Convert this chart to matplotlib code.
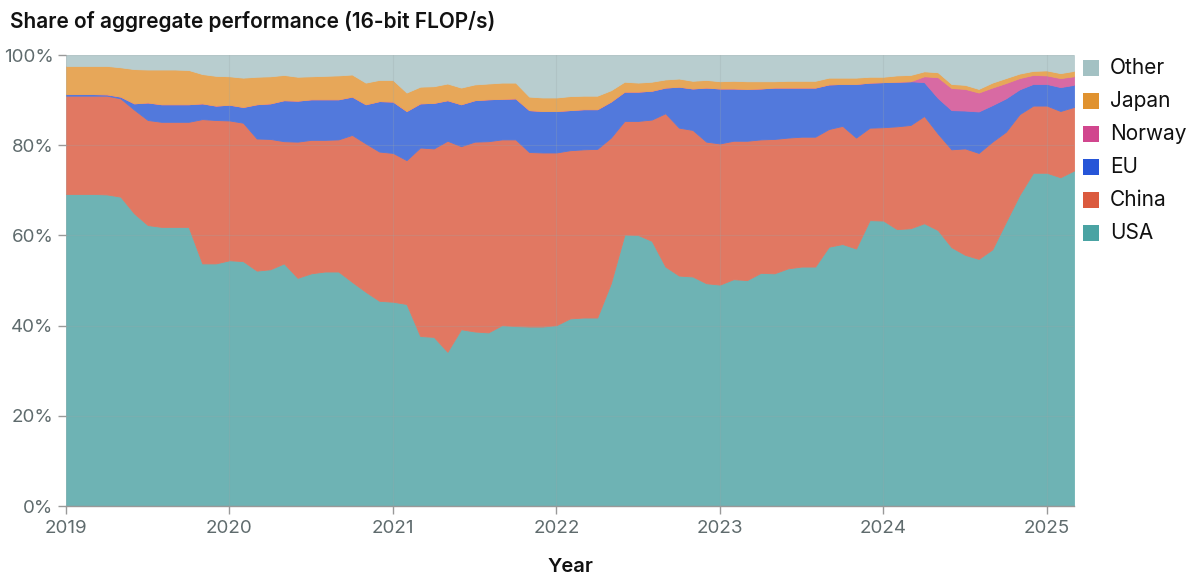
import matplotlib
matplotlib.use("Agg")
import matplotlib.pyplot as plt
from matplotlib.patches import Rectangle
import numpy as np

plt.rcParams['font.family'] = ['Inter', 'DejaVu Sans']

# Monthly data, Jan 2019 .. Mar 2025 (share of aggregate 16-bit FLOP/s, %)
start_year = 2019
n_months = 75

usa = [69.2, 69.2, 69.2, 69.1, 68.6, 64.9, 62.3, 61.9, 61.9, 61.9, 53.8, 53.8, 54.5,
       54.3, 52.2, 52.5, 53.8, 50.6, 51.6, 52.0, 52.0, 49.7, 47.5, 45.5, 45.3,
       44.8, 37.7, 37.5, 34.2, 39.2, 38.7, 38.5, 40.1, 39.9, 39.8, 39.8, 40.1,
       41.6, 41.8, 41.8, 49.4, 60.2, 60.1, 58.8, 53.1, 51.1, 50.9, 49.4, 49.1,
       50.3, 50.1, 51.7, 51.6, 52.7, 53.1, 53.1, 57.5, 58.1, 57.1, 63.4, 63.3,
       61.4, 61.6, 62.7, 61.2, 57.4, 55.7, 54.8, 56.9, 63.0, 69.0, 73.9, 73.9, 72.9, 74.4]

china = [21.8, 21.8, 21.8, 21.9, 21.8, 23.0, 23.3, 23.3, 23.3, 23.3, 32.0, 31.8, 31.0,
         30.7, 29.3, 28.9, 27.1, 30.2, 29.6, 29.2, 29.3, 32.6, 32.9, 33.1, 33.0,
         31.9, 41.8, 41.8, 46.8, 40.6, 42.1, 42.4, 41.2, 41.4, 38.7, 38.6, 38.3,
         37.3, 37.3, 37.4, 32.3, 25.2, 25.3, 26.9, 34.0, 32.8, 32.5, 31.4, 31.3,
         30.7, 30.9, 29.6, 29.8, 29.0, 28.8, 28.8, 26.1, 26.2, 24.6, 20.5, 20.7,
         22.8, 22.9, 23.8, 21.4, 21.7, 23.6, 23.5, 23.9, 20.0, 17.9, 14.9, 14.9, 14.7, 14.1]

eu = [0.35, 0.35, 0.35, 0.3, 0.4, 1.4, 3.9, 3.9, 3.9, 3.9, 3.5, 3.2, 3.5,
      3.5, 7.6, 7.9, 9.1, 9.1, 9.0, 9.0, 8.9, 8.5, 8.7, 11.2, 11.4,
      10.9, 9.8, 10.1, 9.0, 9.3, 9.2, 9.3, 9.0, 9.1, 9.3, 9.2, 9.2,
      8.9, 8.9, 8.8, 8.0, 6.5, 6.5, 6.4, 5.7, 9.1, 9.2, 12.0, 12.2,
      11.6, 11.5, 11.3, 11.4, 11.1, 10.9, 10.9, 9.9, 9.3, 11.9, 10.0, 10.0,
      9.9, 9.7, 7.5, 7.9, 8.7, 8.4, 9.2, 8.1, 7.4, 5.5, 4.8, 4.8, 5.3, 4.9]

norway = [0.0] * 63 + [1.3, 4.6, 4.9, 4.8, 4.2, 3.9, 3.4, 2.5, 2.0, 1.9, 2.0, 1.9]

japan = [6.25, 6.25, 6.25, 6.3, 6.5, 7.6, 7.3, 7.7, 7.7, 7.6, 6.5, 6.6, 6.3,
         6.5, 6.1, 6.0, 5.6, 5.3, 5.1, 5.2, 5.3, 4.9, 4.8, 4.7, 4.8,
         4.1, 3.7, 3.7, 3.7, 3.7, 3.5, 3.5, 3.6, 3.5, 3.0, 3.0, 3.0,
         3.1, 3.0, 3.0, 2.5, 2.2, 2.0, 2.0, 1.8, 1.8, 1.7, 1.7, 1.6,
         1.7, 1.7, 1.6, 1.4, 1.5, 1.5, 1.5, 1.5, 1.4, 1.4, 1.3, 1.2,
         1.4, 1.4, 1.1, 1.1, 0.9, 0.9, 0.8, 1.1, 1.1, 1.0, 0.9, 1.1, 1.1, 1.2]

other = [2.4, 2.4, 2.4, 2.4, 2.7, 3.1, 3.2, 3.2, 3.2, 3.3, 4.2, 4.6, 4.7,
         5.0, 4.8, 4.7, 4.4, 4.8, 4.7, 4.6, 4.5, 4.3, 6.1, 5.5, 5.5,
         8.3, 7.0, 6.9, 6.3, 7.2, 6.5, 6.3, 6.1, 6.1, 9.2, 9.4, 9.4,
         9.1, 9.0, 9.0, 7.8, 5.9, 6.1, 5.9, 5.4, 5.2, 5.7, 5.5, 5.8,
         5.7, 5.8, 5.8, 5.8, 5.7, 5.7, 5.7, 5.0, 5.0, 5.0, 4.8, 4.8,
         4.5, 4.4, 3.6, 3.8, 6.4, 6.6, 7.5, 6.1, 5.1, 4.1, 3.5, 3.4, 4.0, 3.5]

series_names = ['USA', 'China', 'EU', 'Norway', 'Japan', 'Other']
year_ticks = [2019, 2020, 2021, 2022, 2023, 2024, 2025]
y_ticks = [0, 20, 40, 60, 80, 100]

area_colors = ['#6EB3B4', '#E17862', '#5279DC', '#D86AA3', '#E7A759', '#B8CDCF']
swatch_colors = ['#4AA3A3', '#DB5A3E', '#2655D8', '#D1468E', '#E0922F', '#A3C1C3']

x = start_year + np.arange(n_months) / 12.0

fig = plt.figure(figsize=(12, 5.86), dpi=100)
ax = fig.add_axes([0.055, 0.1365, 0.84, 0.7695])

ax.stackplot(x, usa, china, eu, norway, japan, other,
             colors=area_colors, linewidth=0.6, edgecolor='face')

ax.set_xlim(x[0], x[-1])
ax.set_ylim(0, 100)
ax.set_xticks(year_ticks)
ax.set_xticklabels([str(y) for y in year_ticks])
ax.set_yticks(y_ticks)
ax.set_yticklabels([f'{v}%' for v in y_ticks])

ax.grid(True, color='#9aa7a8', alpha=0.25, linewidth=0.8)
ax.set_axisbelow(False)

for s in ['top', 'right', 'left']:
    ax.spines[s].set_visible(False)
ax.spines['bottom'].set_color('#999999')
ax.spines['bottom'].set_linewidth(1.0)

ax.tick_params(axis='both', colors='#999999', labelcolor='#5f6b6d', labelsize=13.5,
               length=6, width=1)
ax.tick_params(axis='y', pad=3)
ax.tick_params(axis='x', pad=4)

ax.set_xlabel('Year', fontsize=14.5, fontweight='semibold', color='#111111', labelpad=15)

fig.text(0.008, 0.964, 'Share of aggregate performance (16-bit FLOP/s)',
         fontsize=15, fontweight='semibold', color='#111111', va='center', ha='left')

# Legend (top to bottom: Other ... USA)
fig_w, fig_h = 1200, 586
leg_order = list(range(len(series_names)))[::-1]
for i, idx in enumerate(leg_order):
    yc = 68 + 33 * i
    sq = 16
    fig.patches.append(Rectangle(((1083) / fig_w, 1 - (yc + sq / 2) / fig_h),
                                 sq / fig_w, sq / fig_h, transform=fig.transFigure,
                                 facecolor=swatch_colors[idx], edgecolor='none'))
    fig.text(1110 / fig_w, 1 - yc / fig_h, series_names[idx], fontsize=15,
             color='#111111', va='center', ha='left')

fig.savefig('out.png', dpi=100)
